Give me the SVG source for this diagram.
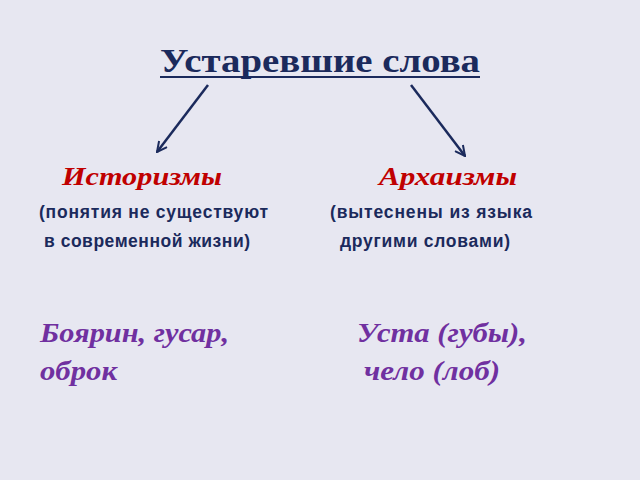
<svg xmlns="http://www.w3.org/2000/svg" width="640" height="480" viewBox="0 0 640 480">
<defs>
<style>
.title{font-family:"Liberation Serif",serif;font-weight:bold;font-size:34px;fill:#1b2a5c;}
.head{font-family:"Liberation Serif",serif;font-weight:bold;font-style:italic;font-size:26px;fill:#c00000;}
.note{font-family:"Liberation Sans",Arial,sans-serif;font-weight:bold;font-size:17.5px;fill:#1b2a5c;}
.ex{font-family:"Liberation Serif",serif;font-weight:bold;font-style:italic;font-size:28px;fill:#7030a0;}
.conn{stroke:#1b2a5c;stroke-width:2.5;fill:none;}
</style>
<marker id="arr" viewBox="0 0 12 12" refX="11" refY="6" markerWidth="12" markerHeight="12" markerUnits="userSpaceOnUse" orient="auto">
<path d="M1,1 L11,6 L1,11" fill="none" stroke="#1b2a5c" stroke-width="2"/>
</marker>
</defs>
<rect width="640" height="480" fill="#e7e7f1"/>
<g id="title">
<text class="title" x="160" y="72" textLength="320" lengthAdjust="spacingAndGlyphs">Устаревшие слова</text>
<line x1="160" y1="77" x2="480" y2="77" stroke="#1b2a5c" stroke-width="2"/>
</g>
<g id="connectors">
<line class="conn" x1="208" y1="85" x2="157" y2="152" marker-end="url(#arr)"/>
<line class="conn" x1="411" y1="85" x2="465" y2="156" marker-end="url(#arr)"/>
</g>
<g id="historisms">
<text class="head" x="62" y="185" textLength="160" lengthAdjust="spacingAndGlyphs">Историзмы</text>
<text class="note" x="39" y="218" textLength="229" lengthAdjust="spacing">(понятия не существуют</text>
<text class="note" x="44" y="247" textLength="206" lengthAdjust="spacing">в современной жизни)</text>
</g>
<g id="archaisms">
<text class="head" x="379" y="185" textLength="138" lengthAdjust="spacingAndGlyphs">Архаизмы</text>
<text class="note" x="330" y="218" textLength="202" lengthAdjust="spacing">(вытеснены из языка</text>
<text class="note" x="340" y="247" textLength="170" lengthAdjust="spacing">другими словами)</text>
</g>
<g id="examples-historisms">
<text class="ex" x="40" y="342" textLength="189" lengthAdjust="spacingAndGlyphs">Боярин, гусар,</text>
<text class="ex" x="40" y="380" textLength="77" lengthAdjust="spacingAndGlyphs">оброк</text>
</g>
<g id="examples-archaisms">
<text class="ex" x="357" y="342" textLength="170" lengthAdjust="spacingAndGlyphs">Уста (губы),</text>
<text class="ex" x="364" y="380" textLength="136" lengthAdjust="spacingAndGlyphs">чело (лоб)</text>
</g>
</svg>
